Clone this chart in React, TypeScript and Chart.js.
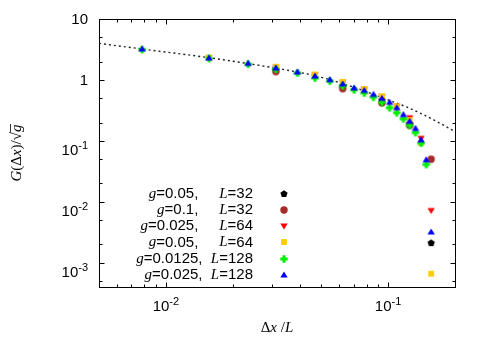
import React, { useEffect, useRef } from 'react';
import { Chart, registerables } from 'chart.js';

Chart.register(...registerables);

// ---- data (Δx/L positions) ----
const xL32 = [0.03125, 0.0625, 0.09375, 0.125, 0.15625];
const xL64 = [0.015625, 0.03125, 0.046875, 0.0625, 0.078125, 0.09375, 0.109375, 0.125, 0.140625, 0.15625];
const xL128 = [
  0.0078125, 0.015625, 0.0234375, 0.03125, 0.0390625, 0.046875, 0.0546875, 0.0625, 0.0703125, 0.078125,
  0.0859375, 0.09375, 0.1015625, 0.109375, 0.1171875, 0.125, 0.1328125, 0.140625, 0.1484375, 0.15625,
];

// ---- series values G(Δx)/√g ----
const yG005L32 = [1.47, 0.79, 0.47, 0.19, 0.0021];
const yG01L32 = [1.37, 0.72, 0.42, 0.18, 0.05];
const yG0025L64 = [2.3, 1.6, 1.2, 0.91, 0.7, 0.53, 0.37, 0.24, 0.11, 0.0072];
const yG005L64 = [2.33, 1.65, 1.23, 0.93, 0.71, 0.54, 0.37, 0.22, 0.092, 0.00066];
const yG00125L128 = [3.15, 2.25, 1.82, 1.5, 1.3, 1.08, 0.96, 0.8, 0.69, 0.61, 0.52, 0.43, 0.35, 0.29, 0.23, 0.18, 0.137, 0.092, 0.041];
const yG0025L128 = [3.22, 2.29, 1.87, 1.57, 1.35, 1.16, 1.01, 0.86, 0.74, 0.675, 0.58, 0.5, 0.43, 0.35, 0.27, 0.21, 0.16, 0.104, 0.049, 0.0032];

// ---- dotted reference curve ----
const xCurve = [0.005, 0.0078, 0.0156, 0.03125, 0.047, 0.0625, 0.078, 0.1, 0.121, 0.141, 0.16, 0.18, 0.2];
const yCurve = [3.98, 3.22, 2.32, 1.56, 1.17, 0.87, 0.66, 0.47, 0.36, 0.28, 0.222, 0.176, 0.142];

// ---- legend ----
const legendG = ['0.05', '0.1', '0.025', '0.05', '0.0125', '0.025'];
const legendL = ['32', '32', '64', '64', '128', '128'];
const legendGap = ['     ', '     ', '     ', '     ', '  ', '  '];
const seriesColors = ['#000000', '#a52a2a', '#ff0000', '#ffcc00', '#00ee00', '#0000ff'];

// ---- ticks ----
const xMajorTicks = [0.01, 0.1];
const xMajorLabels: [string, string][] = [['10', '-2'], ['10', '-1']];
const xMinorTicks = [0.006, 0.007, 0.008, 0.009, 0.02, 0.03, 0.04, 0.05, 0.06, 0.07, 0.08, 0.09];
const yMajorTicks = [10, 1, 0.1, 0.01, 0.001];
const yMajorLabels: [string, string][] = [['10', ''], ['1', ''], ['10', '-1'], ['10', '-2'], ['10', '-3']];
const yMinorTicks = [5, 2, 0.5, 0.2, 0.05, 0.02, 0.005, 0.002, 0.0005];

const SANS = '"Liberation Sans", Arial, Helvetica, sans-serif';
const SERIF = '"Liberation Serif", "Times New Roman", serif';
const FS = 15;
const F_SANS = `${FS}px ${SANS}`;
const F_SUP = `11px ${SANS}`;
const F_SERIF = `${FS}px ${SERIF}`;
const F_ITAL = `italic ${FS}px ${SERIF}`;

type Seg = [string, string];

function segsWidth(ctx: CanvasRenderingContext2D, segs: Seg[]) {
  let w = 0;
  for (const [t, f] of segs) {
    ctx.font = f;
    w += ctx.measureText(t).width;
  }
  return w;
}

function drawSegs(ctx: CanvasRenderingContext2D, segs: Seg[], x: number, y: number) {
  let cx = x;
  for (const [t, f] of segs) {
    ctx.font = f;
    ctx.fillText(t, cx, y);
    cx += ctx.measureText(t).width;
  }
  return cx;
}

function makeMarker(color: string, draw: (c: CanvasRenderingContext2D) => void) {
  const s = 12;
  const cv = document.createElement('canvas');
  cv.width = s;
  cv.height = s;
  const c = cv.getContext('2d')!;
  c.translate(s / 2, s / 2);
  c.fillStyle = color;
  c.beginPath();
  draw(c);
  c.fill();
  return cv;
}

function buildMarkers() {
  const pentagon = makeMarker(seriesColors[0], (c) => {
    for (let i = 0; i < 5; i++) {
      const a = -Math.PI / 2 + (i * 2 * Math.PI) / 5;
      c.lineTo(Math.cos(a) * 3.8, Math.sin(a) * 3.8);
    }
    c.closePath();
  });
  const circle = makeMarker(seriesColors[1], (c) => {
    c.arc(0, 0, 3.7, 0, Math.PI * 2);
  });
  const downTri = makeMarker(seriesColors[2], (c) => {
    c.moveTo(-3.7, -2.6);
    c.lineTo(3.7, -2.6);
    c.lineTo(0, 3.4);
    c.closePath();
  });
  const square = makeMarker(seriesColors[3], (c) => {
    c.rect(-2.9, -2.9, 5.8, 5.8);
  });
  const plus = makeMarker(seriesColors[4], (c) => {
    c.rect(-3.7, -1.5, 7.4, 3);
    c.rect(-1.5, -3.7, 3, 7.4);
    c.moveTo(0, -2.9);
    c.lineTo(2.9, 0);
    c.lineTo(0, 2.9);
    c.lineTo(-2.9, 0);
    c.closePath();
  });
  const upTri = makeMarker(seriesColors[5], (c) => {
    c.moveTo(-3.7, 2.6);
    c.lineTo(3.7, 2.6);
    c.lineTo(0, -3.4);
    c.closePath();
  });
  return [pentagon, circle, downTri, square, plus, upTri];
}

function gnuplotFrame(markers: HTMLCanvasElement[]) {
  return {
    id: 'gnuplotFrame',
    beforeDatasetsDraw(chart: any) {
      const { ctx, chartArea: a, scales } = chart;
      const xs = scales.x;
      const ys = scales.y;
      ctx.save();
      ctx.strokeStyle = '#000';
      ctx.lineWidth = 1;
      const L = Math.round(a.left) + 0.5;
      const R = Math.round(a.right) + 0.5;
      const T = Math.round(a.top) + 0.5;
      const B = Math.round(a.bottom) + 0.5;
      ctx.beginPath();
      const xt = (v: number, len: number) => {
        const p = Math.round(xs.getPixelForValue(v)) + 0.5;
        ctx.moveTo(p, B);
        ctx.lineTo(p, B - len);
        ctx.moveTo(p, T);
        ctx.lineTo(p, T + len);
      };
      const yt = (v: number, len: number) => {
        const p = Math.round(ys.getPixelForValue(v)) + 0.5;
        ctx.moveTo(L, p);
        ctx.lineTo(L + len, p);
        ctx.moveTo(R, p);
        ctx.lineTo(R - len, p);
      };
      xMajorTicks.forEach((v) => xt(v, 5));
      xMinorTicks.forEach((v) => xt(v, 3));
      yMajorTicks.forEach((v) => yt(v, 5));
      yMinorTicks.forEach((v) => yt(v, 3));
      ctx.stroke();
      ctx.strokeRect(L, T, R - L, B - T);
      ctx.restore();
    },
    afterDraw(chart: any) {
      const { ctx, chartArea: a, scales } = chart;
      const xs = scales.x;
      const ys = scales.y;
      ctx.save();
      ctx.fillStyle = '#000';
      ctx.textAlign = 'left';
      ctx.textBaseline = 'alphabetic';

      // y tick labels (labels with an exponent sit a little lower, as in the reference)
      yMajorTicks.forEach((v, i) => {
        const [base, sup] = yMajorLabels[i];
        const py = ys.getPixelForValue(v);
        ctx.font = F_SANS;
        const wb = ctx.measureText(base).width;
        ctx.font = F_SUP;
        const ws = sup ? ctx.measureText(sup).width : 0;
        const x0 = 88 - wb - ws;
        const by = py + 5.4 + (sup ? 9 : 0);
        ctx.font = F_SANS;
        ctx.fillText(base, x0, by);
        if (sup) {
          ctx.font = F_SUP;
          ctx.fillText(sup, x0 + wb, by - 6);
        }
      });

      // x tick labels
      xMajorTicks.forEach((v, i) => {
        const [base, sup] = xMajorLabels[i];
        const px = xs.getPixelForValue(v);
        ctx.font = F_SANS;
        const wb = ctx.measureText(base).width;
        ctx.font = F_SUP;
        const ws = ctx.measureText(sup).width;
        const x0 = px - (wb + ws) / 2;
        const by = a.bottom + 24;
        ctx.font = F_SANS;
        ctx.fillText(base, x0, by);
        ctx.font = F_SUP;
        ctx.fillText(sup, x0 + wb, by - 6);
      });

      // x axis title
      ctx.textBaseline = 'middle';
      const xTitle: Seg[] = [['Δ', F_SERIF], ['x', F_ITAL], [' /', F_SERIF], ['L', F_ITAL]];
      const wx = segsWidth(ctx, xTitle);
      drawSegs(ctx, xTitle, 277 - wx / 2, 328);

      // y axis title (rotated)
      const yTitle: Seg[] = [
        ['G', F_ITAL], ['(', F_SERIF], ['Δ', F_SERIF], ['x', F_ITAL], [')/', F_SERIF], ['√', F_SERIF],
      ];
      const gSeg: Seg[] = [['g', F_ITAL]];
      const wy = segsWidth(ctx, yTitle) + segsWidth(ctx, gSeg);
      ctx.save();
      ctx.translate(17, (a.top + a.bottom) / 2);
      ctx.rotate(-Math.PI / 2);
      const gx = drawSegs(ctx, yTitle, -wy / 2, 0);
      const gEnd = drawSegs(ctx, gSeg, gx, 0);
      ctx.beginPath();
      ctx.lineWidth = 0.8;
      ctx.moveTo(gx - 0.5, -6.5);
      ctx.lineTo(gEnd + 0.5, -6.5);
      ctx.stroke();
      ctx.restore();

      // legend
      const right = 253;
      const mx = 284;
      legendG.forEach((g, i) => {
        const y = 194 + i * 16.15;
        const segs: Seg[] = [
          ['g', F_ITAL],
          ['=' + g + ',' + legendGap[i], F_SANS],
          ['L', F_ITAL],
          ['=' + legendL[i], F_SANS],
        ];
        const w = segsWidth(ctx, segs);
        drawSegs(ctx, segs, right - w, y);
        const m = markers[i];
        ctx.drawImage(m, mx - m.width / 2, Math.round(y) - m.height / 2);
      });
      ctx.restore();
    },
  };
}

export default function App() {
  const ref = useRef<HTMLCanvasElement>(null);
  useEffect(() => {
    const markers = buildMarkers();
    const pts = (xs: number[], ys: number[]) => ys.map((y, i) => ({ x: xs[i], y }));
    const scatter = (label: string, data: any[], idx: number, order: number) => ({
      label,
      data,
      showLine: false,
      pointStyle: markers[idx],
      pointRadius: 4,
      backgroundColor: seriesColors[idx],
      borderColor: seriesColors[idx],
      order,
    });
    const chart = new Chart(ref.current!, {
      type: 'scatter',
      data: {
        datasets: [
          {
            label: 'curve',
            data: pts(xCurve, yCurve),
            showLine: true,
            pointRadius: 0,
            borderColor: '#222',
            borderWidth: 1.4,
            borderDash: [2, 3],
            cubicInterpolationMode: 'monotone',
            fill: false,
            order: 10,
          } as any,
          scatter('g=0.05, L=32', pts(xL32, yG005L32), 0, 6),
          scatter('g=0.1, L=32', pts(xL32, yG01L32), 1, 5),
          scatter('g=0.025, L=64', pts(xL64, yG0025L64), 2, 4),
          scatter('g=0.05, L=64', pts(xL64, yG005L64), 3, 3),
          scatter('g=0.0125, L=128', pts(xL128, yG00125L128), 4, 2),
          scatter('g=0.025, L=128', pts(xL128, yG0025L128), 5, 1),
        ],
      },
      options: {
        responsive: false,
        animation: false,
        events: [],
        layout: { padding: { left: 99, top: 19, right: 30, bottom: 52 } },
        scales: {
          x: { type: 'logarithmic', min: 0.005, max: 0.2, display: false },
          y: { type: 'logarithmic', min: 0.0004, max: 10, display: false },
        },
        plugins: { legend: { display: false }, tooltip: { enabled: false } },
      },
      plugins: [gnuplotFrame(markers)],
    });
    return () => chart.destroy();
  }, []);
  return (
    <div style={{ position: 'fixed', left: 0, top: 0, width: 485, height: 339, background: '#fff' }}>
      <canvas ref={ref} width={485} height={339} style={{ width: 485, height: 339 }} />
    </div>
  );
}
